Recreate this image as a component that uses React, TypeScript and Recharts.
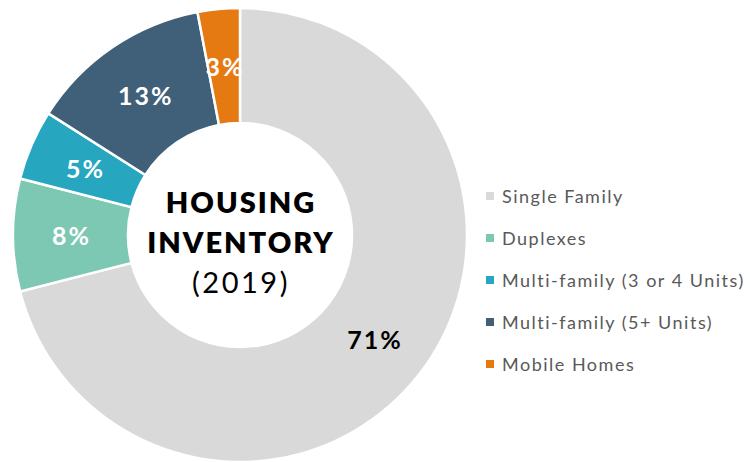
import React from "react";
import { PieChart, Pie, Cell, Legend } from "recharts";

const categories = [
  "Single Family",
  "Duplexes",
  "Multi-family (3 or 4 Units)",
  "Multi-family (5+ Units)",
  "Mobile Homes",
];
const shares = [71, 8, 5, 13, 3];
const colors = ["#D9D9D9", "#7DC8B2", "#27A6C0", "#3F6078", "#E57A12"];
const labelColors = ["#000000", "#FFFFFF", "#FFFFFF", "#FFFFFF", "#FFFFFF"];

const data = categories.map((name, i) => ({ name, value: shares[i] }));

const FONT = "Lato, 'Open Sans', sans-serif";
const RADIAN = Math.PI / 180;

const renderLabel = (props: any) => {
  const { cx, cy, midAngle, innerRadius, outerRadius, index, value } = props;
  const r = (innerRadius + outerRadius) / 2;
  const x = cx + r * Math.cos(-midAngle * RADIAN);
  const y = cy + r * Math.sin(-midAngle * RADIAN);
  return (
    <text
      x={x + 1}
      y={y}
      textAnchor="middle"
      dominantBaseline="central"
      fill={labelColors[index]}
      fontFamily={FONT}
      fontWeight={700}
      fontSize={25}
      letterSpacing={2}
    >
      {value}%
    </text>
  );
};

const renderLegend = () => (
  <div style={{ fontFamily: FONT }}>
    {categories.map((c, i) => (
      <div
        key={c}
        style={{
          display: "flex",
          alignItems: "center",
          height: 42,
          color: "#595959",
          fontSize: 18,
          letterSpacing: 1.5,
          whiteSpace: "nowrap",
        }}
      >
        <span
          style={{
            display: "inline-block",
            width: 8,
            height: 8,
            background: colors[i],
            marginRight: 8,
          }}
        />
        {c}
      </div>
    ))}
  </div>
);

export default function App() {
  return (
    <div style={{ position: "absolute", left: 0, top: 0, width: 750, height: 462, background: "#fff" }}>
      <PieChart width={750} height={462} margin={{ top: 0, right: 0, bottom: 0, left: 0 }}>
        <Pie
          data={data}
          dataKey="value"
          nameKey="name"
          cx={240}
          cy={235}
          innerRadius={112}
          outerRadius={227}
          startAngle={90}
          endAngle={-270}
          stroke="#FFFFFF"
          strokeWidth={2.5}
          isAnimationActive={false}
          labelLine={false}
          label={renderLabel}
        >
          {data.map((d, i) => (
            <Cell key={d.name} fill={colors[i]} />
          ))}
        </Pie>
        <Legend
          content={renderLegend}
          wrapperStyle={{ position: "absolute", left: 486, top: 175, width: 264 }}
        />
        <text x={241} y={201} textAnchor="middle" dominantBaseline="central" fontFamily={FONT} fontWeight={800} fontSize={29} letterSpacing={2} fill="#000">
          HOUSING
        </text>
        <text x={241} y={241} textAnchor="middle" dominantBaseline="central" fontFamily={FONT} fontWeight={800} fontSize={29} letterSpacing={2} fill="#000">
          INVENTORY
        </text>
        <text x={241} y={281} textAnchor="middle" dominantBaseline="central" fontFamily={FONT} fontWeight={400} fontSize={29} letterSpacing={2.5} fill="#000">
          (2019)
        </text>
      </PieChart>
    </div>
  );
}
